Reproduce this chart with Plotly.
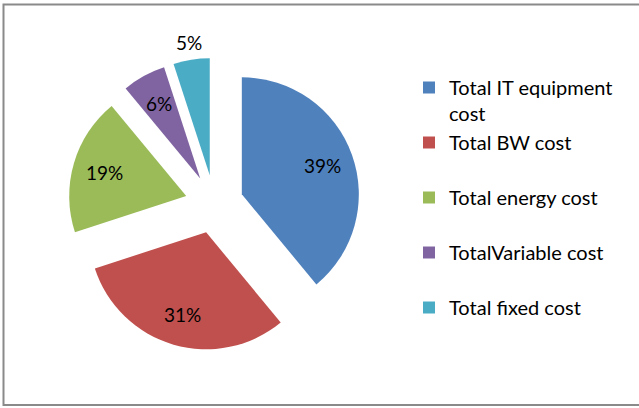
import math
import plotly.graph_objects as go

# Cost breakdown shares (percent)
categories = [
    "Total IT equipment<br>cost",
    "Total BW cost<br>\u00a0",
    "Total energy cost<br>\u00a0",
    "TotalVariable cost<br>\u00a0",
    "Total fixed cost<br>\u00a0",
]
shares = [39, 31, 19, 6, 5]
colors = ["#4F81BD", "#C0504D", "#9BBB59", "#8064A2", "#4BACC6"]

W, H = 639, 408
FONT = "Lato"

# pie geometry in pixels
cx, cy = 214.3, 204.2
radius = 117
pull = 0.25
half = radius * (1 + pull)

# distance of each percent label from its slice tip, as a fraction of the radius
label_dist = [0.73, 0.73, 0.73, 0.73, 1.15]

fig = go.Figure(
    go.Pie(
        labels=categories,
        values=shares,
        sort=False,
        direction="clockwise",
        rotation=0,
        pull=[pull] * len(shares),
        marker=dict(colors=colors, line=dict(width=0)),
        textinfo="none",
        hoverinfo="skip",
        domain=dict(
            x=[(cx - half) / W, (cx + half) / W],
            y=[(H - cy - half) / H, (H - cy + half) / H],
        ),
    )
)

# percent labels placed along each slice's bisector
total = sum(shares)
annotations = []
cum = 0
for share, k in zip(shares, label_dist):
    theta = math.radians((cum + share / 2) / total * 360)
    cum += share
    d = (pull + k) * radius
    px = cx + d * math.sin(theta)
    py = cy - d * math.cos(theta)
    annotations.append(
        dict(
            x=px / W,
            y=(H - py) / H,
            xref="paper",
            yref="paper",
            text=f"{round(share / total * 100)}%",
            showarrow=False,
            xanchor="center",
            yanchor="middle",
            font=dict(family=FONT, size=19, color="black"),
        )
    )

fig.update_layout(
    width=W,
    height=H,
    margin=dict(l=0, r=0, t=0, b=0, autoexpand=False),
    paper_bgcolor="white",
    plot_bgcolor="white",
    font=dict(family=FONT, size=20, color="black"),
    annotations=annotations,
    legend=dict(
        x=409 / W,
        y=(H - 68) / H,
        xanchor="left",
        yanchor="top",
        valign="top",
        font=dict(family=FONT, size=20, color="black"),
        bgcolor="rgba(0,0,0,0)",
    ),
    shapes=[
        dict(
            type="rect",
            xref="paper",
            yref="paper",
            x0=3.5 / W,
            x1=1.02,
            y0=(H - 405) / H,
            y1=(H - 4.5) / H,
            line=dict(color="#8a8a8a", width=2),
            fillcolor="rgba(0,0,0,0)",
        )
    ],
)

fig.write_html("out.html")
